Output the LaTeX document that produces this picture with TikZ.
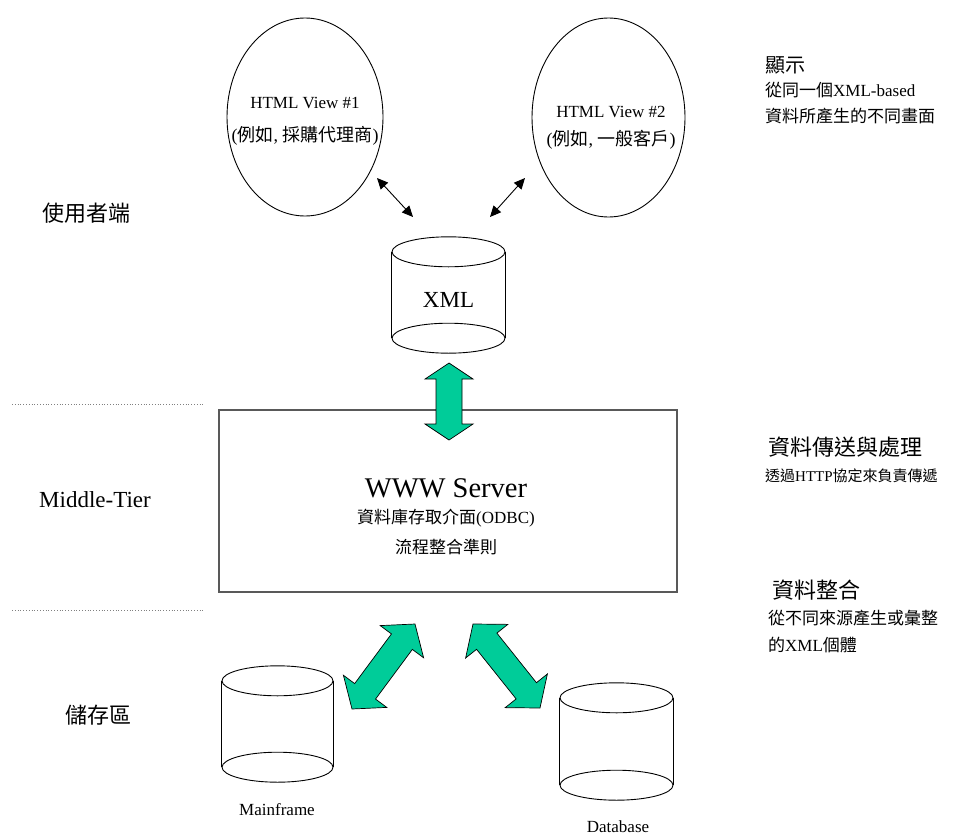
\documentclass[tikz,border=0pt]{standalone}
\usepackage{fontspec}
\setmainfont{Liberation Serif}
\newfontfamily\cjk{Noto Sans CJK TC}
\usetikzlibrary{shapes.geometric,arrows.meta,calc}
\definecolor{flowgreen}{RGB}{0,204,153}
\newcommand\fs[1]{\fontsize{#1}{#1}\selectfont}
% block double arrow between two tip coordinates:
% #1,#2 tips, #3 head length, #4 head half width, #5 shaft half width
\newcommand\blockarrow[5]{%
  \path ($(#1)!#3!(#2)$) coordinate (hA) ($(#2)!#3!(#1)$) coordinate (hB);
  \filldraw[greenarrow] (#1)
    -- ($(hA)!#4!90:(#2)$) -- ($(hA)!#5!90:(#2)$)
    -- ($(hB)!#5!-90:(#1)$) -- ($(hB)!#4!-90:(#1)$)
    -- (#2)
    -- ($(hB)!#4!90:(#1)$) -- ($(hB)!#5!90:(#1)$)
    -- ($(hA)!#5!-90:(#2)$) -- ($(hA)!#4!-90:(#2)$) -- cycle;}
% database drum: #1 name, #2 centre x, #3 top-rim y, #4 bottom-rim y, #5 half width
\newcommand\drum[5]{%
  \node[drumbody, minimum width=2*#5pt, minimum height=#4pt-#3pt] (#1) at (#2,{(#3+#4)/2}) {};
  \draw[thinline] (#1.north) ellipse [x radius=#5pt, y radius=15pt];
  \draw[thinline] (#1.south) ellipse [x radius=#5pt, y radius=15pt];
  \draw[thinline] (#1.north west) -- (#1.south west);
  \draw[thinline] (#1.north east) -- (#1.south east);}
\begin{document}
\begin{tikzpicture}[x=1pt,y=-1pt,
  fsz/.style={font=\fs{#1}},
  thinline/.style={line width=0.9pt},
  drumbody/.style={rectangle, inner sep=0pt, draw=none},
  view/.style={ellipse, draw, line width=0.9pt, inner sep=0pt},
  greenarrow/.style={fill=flowgreen, draw=black, line width=0.7pt, line join=miter},
  tier/.style={draw=gray, line width=0.8pt, dotted},
  smallarrow/.style={line width=0.9pt,
    {Triangle[length=11pt,width=10pt]}-{Triangle[length=11pt,width=10pt]}},
  note/.style={anchor=west, inner sep=0pt}]
\useasboundingbox (0,0) rectangle (966,835);

% client views
\node[view, minimum width=156pt, minimum height=198pt] (v1) at (305,117) {};
\node[fsz=17] (v1a) at (305,103) {HTML View \#1};
\node[fsz=18] (v1b) at (305,136) {({\cjk 例如}, {\cjk 採購代理商})};
\node[view, minimum width=153pt, minimum height=199pt] (v2) at (608.5,117.5) {};
\node[fsz=17] (v2a) at (611,112) {HTML View \#2};
\node[fsz=18] (v2b) at (611,140) {({\cjk 例如}, {\cjk 一般客戶})};

% XML store
\drum{xml}{448.5}{252}{338}{56.5}
\node[fsz=23] (xmltxt) at (448.5,300) {XML};

\coordinate (s1a) at (377,178);
\coordinate (s1b) at (413,217);
\coordinate (s2a) at (490,217);
\coordinate (s2b) at (525,178);
\draw[smallarrow] (s1a) -- (s1b);
\draw[smallarrow] (s2a) -- (s2b);

% middle tier server
\node[draw=black!65, line width=1.6pt, minimum width=458pt, minimum height=182pt,
      inner sep=0pt] (srv) at (448,501) {};
\node[fsz=28.5] (srv1) at (446,488) {WWW Server};
\node[fsz=17] (srv2) at (446,518) {{\cjk 資料庫存取介面}(ODBC)};
\node[fsz=17] (srv3) at (446,547) {\cjk 流程整合準則};

% storage
\drum{mf}{277.5}{681}{767}{55.5}
\node[fsz=17] (mftxt) at (277,810) {Mainframe};
\drum{db}{616.5}{698}{785}{56.5}
\node[fsz=17] (dbtxt) at (618,827) {Database};

% green exchange arrows
\coordinate (g1a) at (449,363);
\coordinate (g1b) at (449,440);
\blockarrow{g1a}{g1b}{16pt}{24pt}{13pt}
\coordinate (g2a) at (352,709);
\coordinate (g2b) at (415,624);
\blockarrow{g2a}{g2b}{22pt}{27pt}{13pt}
\coordinate (g3a) at (473,624);
\coordinate (g3b) at (540,708);
\blockarrow{g3a}{g3b}{22pt}{27pt}{13pt}

% tier separators and tier names
\coordinate (t1a) at (12,404);
\coordinate (t1b) at (203,404);
\coordinate (t2a) at (12,610);
\coordinate (t2b) at (203,610);
\draw[tier] (t1a) -- (t1b);
\draw[tier] (t2a) -- (t2b);
\node[fsz=22, anchor=west, inner sep=0pt] (tc) at (42,213) {\cjk 使用者端};
\node[fsz=23] (tm) at (95,500) {Middle-Tier};
\node[fsz=22, anchor=west, inner sep=0pt] (ts) at (65,715) {\cjk 儲存區};

% notes on the right
\node[note, fsz=20] (n1) at (765,65) {\cjk 顯示};
\node[note, fsz=17] (n1a) at (765,90) {{\cjk 從同一個}XML-based};
\node[note, fsz=17] (n1b) at (765,116) {\cjk 資料所產生的不同畫面};
\node[note, fsz=22] (n2) at (768,447) {\cjk 資料傳送與處理};
\node[note, fsz=15] (n2a) at (765,476) {{\cjk 透過}HTTP{\cjk 協定來負責傳遞}};
\node[note, fsz=22] (n3) at (772,590) {\cjk 資料整合};
\node[note, fsz=17] (n3a) at (768,618) {\cjk 從不同來源產生或彙整};
\node[note, fsz=17] (n3b) at (768,645) {{\cjk 的}XML{\cjk 個體}};
\end{tikzpicture}
\end{document}
